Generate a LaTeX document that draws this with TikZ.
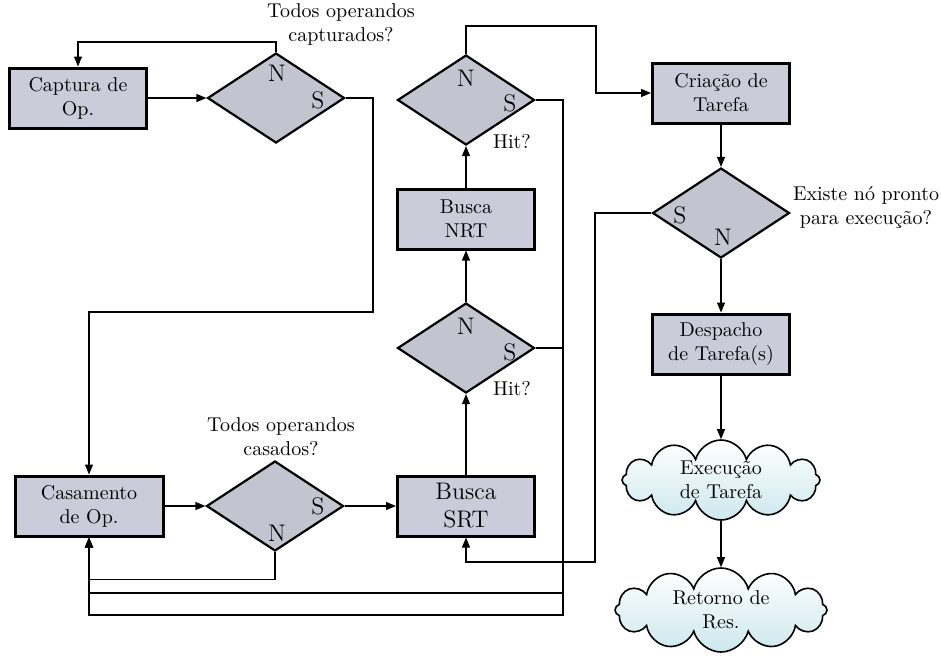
\documentclass[tikz,border=0pt]{standalone}
\usepackage{tikz}
\usetikzlibrary{shapes, shapes.geometric, shapes.symbols, arrows.meta}

\definecolor{boxgray}{RGB}{202,204,218}
\definecolor{diagray}{RGB}{194,196,208}
\definecolor{cloudblue}{RGB}{205,232,238}

\tikzset{
  proc/.style={draw, line width=1.5pt, fill=boxgray, align=center, minimum width=68.5pt, minimum height=30pt, inner sep=1pt},
  decis/.style={draw, diamond, line width=1.1pt, fill=diagray, minimum width=68.5pt, minimum height=45pt, inner sep=0pt},
  nuvem/.style={draw, cloud, cloud puffs=12, cloud ignores aspect, line width=0.8pt, top color=white, bottom color=cloudblue, align=center, inner sep=0pt},
  flecha/.style={-{Triangle[length=5pt,width=4pt]}, line width=0.6pt},
  yn/.style={font=\large},
}

\begin{document}
\begin{tikzpicture}[x=0.5pt, y=-0.5pt]
\useasboundingbox (0,0) rectangle (941,655);

%Captura
\node[proc] (cap) at (78,98) {Captura de\\Op.};
\node[decis] (d1) at (276,98) {};
\node[yn] (d1n) at (277,73) {N};
\node[yn] (d1s) at (318,100) {S};
\node[align=center] (q1) at (341,24) {Todos operandos\\capturados?};

%Casamento
\node[proc, minimum width=74pt] (cas) at (89,506) {Casamento\\de Op.};
\node[decis] (d2) at (275,506) {};
\node[yn] (d2s) at (318,506) {S};
\node[yn] (d2n) at (277,533) {N};
\node[align=center] (q2) at (281,437) {Todos operandos\\casados?};

%Buscas
\node[proc, font=\large] (srt) at (466,506) {Busca\\SRT};
\node[decis] (h1) at (466,348) {};
\node[yn] (h1n) at (466,326) {N};
\node[yn] (h1s) at (510,352) {S};
\node (h1q) at (512,389) {Hit?};
\node[proc] (nrt) at (466,219) {Busca\\NRT};
\node[decis] (h2) at (466,100) {};
\node[yn] (h2n) at (466,78) {N};
\node[yn] (h2s) at (510,103) {S};
\node (h2q) at (512,142) {Hit?};

%Tarefas
\node[proc] (cri) at (721,93) {Cria\c{c}\~ao de\\Tarefa};
\node[decis] (ex) at (721,213) {};
\node[yn] (exs) at (680,215) {S};
\node[yn] (exn) at (723,237) {N};
\node[align=center] (q3) at (866,208) {Existe n\'o pronto\\para execu\c{c}\~ao?};
\node[proc] (des) at (721,344) {Despacho\\de Tarefa(s)};
\node[nuvem, minimum width=99pt, minimum height=40pt] (exe) at (721,480) {Execu\c{c}\~ao\\de Tarefa};
\node[nuvem, minimum width=106pt, minimum height=42pt] (ret) at (721,610) {Retorno de\\Res.};

% Connectors
\foreach \from/\to in {cap.east/d1.west, cas.east/d2.west, d2.east/srt.west, srt.north/h1.south, h1.north/nrt.south, nrt.north/h2.south, cri.south/ex.north, ex.south/des.north, des.south/exe.north, exe.south/ret.north}
\draw [flecha] (\from) -- (\to);

\draw[flecha] (d1.north) -- ++(0,-10) -| (cap.north);
\draw[flecha] (d1.east) -| (373,312) -| (cas.north);
\draw[flecha] (d2.south) -- ++(0,27) -| (cas.south);
\draw[flecha] (h2.north) |- (596,26) |- (cri.west);
\draw[flecha] (h2.east) -| (563,615) -| (cas.south);
\draw[flecha] (h1.east) -| (563,593) -| (cas.south);
\draw[flecha] (ex.west) -| (595,562) -| (srt.south);

\end{tikzpicture}
\end{document}
